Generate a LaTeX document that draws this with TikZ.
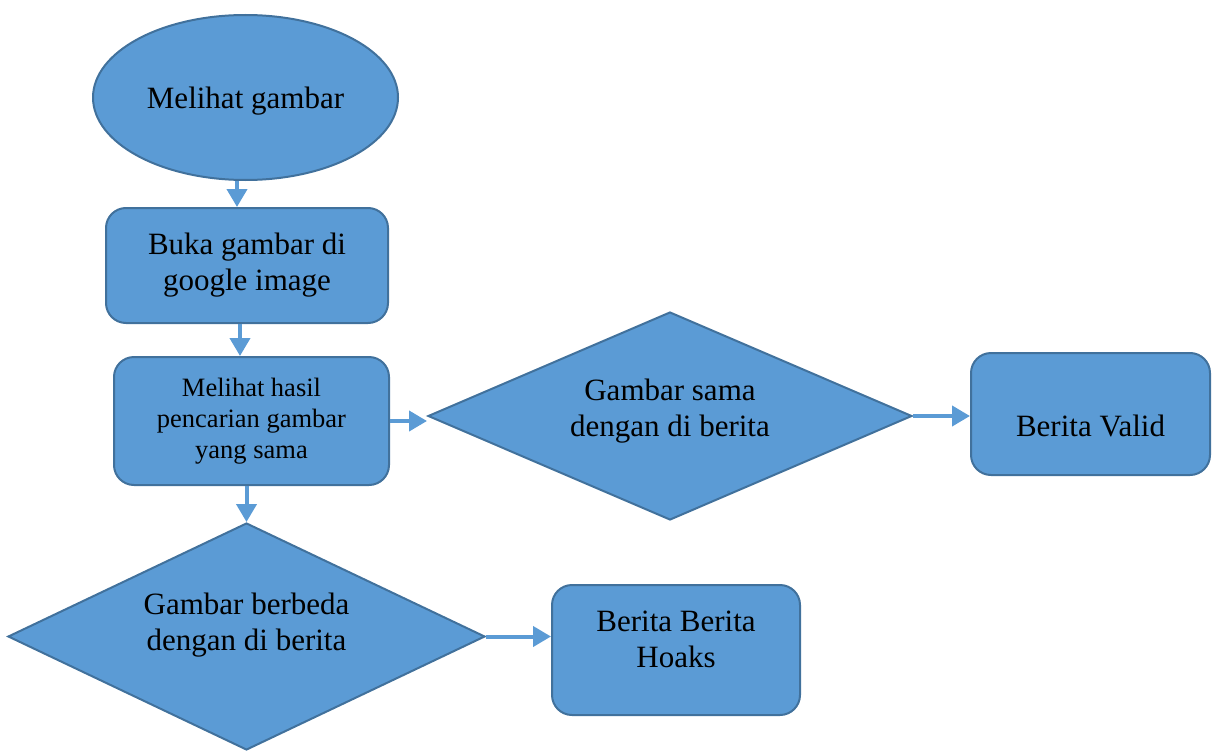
\documentclass[tikz,border=0pt]{standalone}
\usepackage{fontspec}
\setmainfont{Liberation Serif}
\usetikzlibrary{shapes.geometric,arrows.meta}
\definecolor{boxfill}{HTML}{5B9BD5}
\definecolor{boxline}{HTML}{41719C}
\begin{document}
\begin{tikzpicture}[x=1pt, y=-1pt,
    every node/.style={draw=boxline, fill=boxfill, line width=2pt, align=center,
      inner sep=0pt, font=\fontsize{31}{36}\selectfont},
    proc/.style={rounded corners=20pt},
    small/.style={font=\fontsize{26.5}{31}\selectfont},
    link/.style={draw=boxfill, line width=4pt, -{Triangle[length=18pt,width=20pt]}},
  ]
  \useasboundingbox (0,0) rectangle (1212,752);
  \node[ellipse, minimum width=305pt, minimum height=165pt, text height=29.5pt] (look) at (245.5,97.5) {Melihat gambar};
  \node[proc, minimum width=282pt, minimum height=115pt] (open) at (247,265.5) {Buka gambar di\\google image};
  \node[proc, small, minimum width=275pt, minimum height=128pt] (result) at (251.5,421) {Melihat hasil\\pencarian gambar\\yang sama};
  \node[diamond, aspect=2.33, minimum width=484pt, minimum height=208pt, text depth=17pt] (same) at (670,416) {Gambar sama\\dengan di berita};
  \node[proc, minimum width=239pt, minimum height=122pt, text height=45pt, text depth=0pt] (valid) at (1090.5,414) {Berita Valid};
  \node[diamond, aspect=2.1, minimum width=477pt, minimum height=227pt, text depth=29pt] (diff) at (246.5,636.5) {Gambar berbeda\\dengan di berita};
  \node[proc, minimum width=248pt, minimum height=130pt, text depth=22pt] (hoax) at (676,650) {Berita Berita\\Hoaks};
  % connectors
  \draw[link] ([xshift=-8.5pt]look.south) -- ([xshift=-10pt]open.north);
  \draw[link] ([xshift=-7pt]open.south) -- ([xshift=-11.5pt]result.north);
  \draw[link] (result.east) -- (result.east -| same.west);
  \draw[link] (same.east) -- (same.east -| valid.west);
  \draw[link] (result.south -| diff.north) -- (diff.north);
  \draw[link] (diff.east) -- (diff.east -| hoax.west);
\end{tikzpicture}
\end{document}
